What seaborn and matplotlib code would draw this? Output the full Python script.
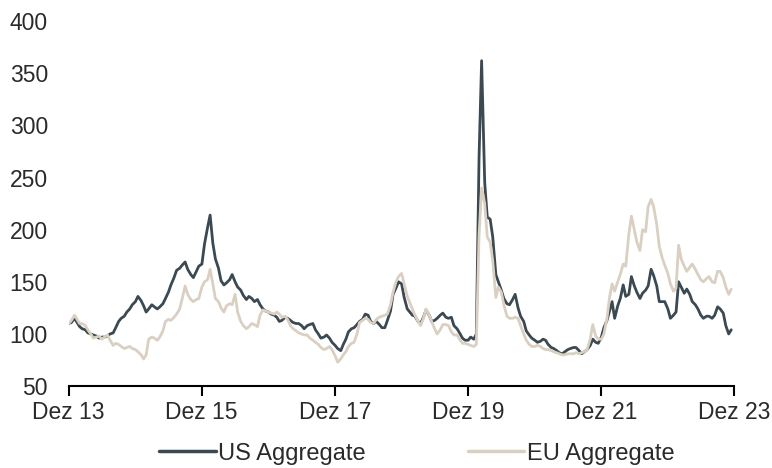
import pandas as pd
import matplotlib
matplotlib.use("Agg")
import matplotlib.pyplot as plt
from matplotlib.lines import Line2D
import seaborn as sns

# Serien (halbmonatlich, ab Jan 2014)
us_aggregate = [
    110, 111, 115, 111, 107, 105, 104, 101, 100, 99, 98, 96, 97, 97, 98, 100, 101, 106, 112, 115,
    117, 121, 124, 128, 131, 136, 132, 127, 121, 124, 128, 126, 124, 126, 129, 134, 140, 147, 154, 161,
    163, 166, 169, 162, 157, 154, 160, 165, 167, 186, 202, 214, 187, 172, 163, 151, 147, 149, 152, 157,
    150, 145, 142, 137, 133, 136, 134, 131, 133, 128, 124, 122, 121, 119, 118, 116, 112, 113, 116, 115,
    113, 111, 110, 110, 108, 105, 108, 109, 110, 104, 100, 96, 97, 99, 96, 92, 89, 86, 84, 90,
    95, 102, 105, 106, 109, 112, 114, 119, 118, 112, 110, 112, 109, 106, 106, 113, 122, 138, 144, 150,
    148, 135, 124, 121, 118, 117, 112, 110, 116, 123, 118, 112, 113, 115, 118, 120, 116, 115, 116, 108,
    105, 101, 96, 94, 94, 97, 95, 100, 270, 362, 245, 212, 210, 193, 157, 150, 142, 134, 129, 128,
    133, 138, 125, 117, 112, 103, 99, 96, 94, 92, 93, 95, 94, 90, 87, 86, 84, 82, 81, 83,
    85, 86, 87, 87, 84, 81, 83, 85, 89, 95, 92, 91, 97, 106, 113, 122, 131, 115, 127, 134,
    147, 136, 138, 155, 146, 140, 134, 139, 142, 146, 162, 156, 146, 131, 131, 131, 124, 115, 118, 121,
    150, 145, 139, 143, 138, 131, 128, 124, 118, 115, 117, 117, 115, 118, 126, 124, 120, 108, 100, 104,
]
eu_aggregate = [
    110, 113, 118, 114, 110, 110, 108, 104, 100, 96, 97, 98, 95, 97, 99, 94, 89, 91, 90, 88,
    86, 87, 88, 86, 85, 83, 80, 76, 80, 95, 97, 96, 94, 97, 103, 112, 114, 113, 116, 119,
    124, 134, 146, 138, 133, 131, 133, 134, 145, 150, 152, 162, 148, 134, 131, 125, 121, 127, 129, 128,
    138, 121, 112, 108, 105, 107, 110, 109, 107, 118, 123, 122, 121, 120, 119, 121, 119, 116, 117, 114,
    108, 105, 103, 101, 100, 99, 99, 96, 94, 92, 90, 87, 85, 86, 88, 85, 79, 73, 76, 80,
    83, 88, 91, 92, 100, 111, 113, 115, 114, 111, 110, 114, 116, 117, 118, 119, 128, 140, 150, 155,
    158, 148, 136, 130, 124, 118, 112, 108, 115, 124, 118, 112, 105, 100, 104, 109, 109, 108, 102, 99,
    99, 95, 91, 91, 90, 89, 88, 90, 195, 240, 225, 193, 188, 170, 135, 145, 140, 128, 117, 115,
    115, 116, 115, 108, 100, 94, 90, 88, 88, 89, 88, 86, 85, 85, 84, 83, 82, 81, 80, 80,
    81, 81, 81, 82, 81, 82, 83, 85, 95, 109, 98, 95, 95, 100, 115, 135, 148, 141, 150, 157,
    167, 165, 196, 213, 200, 188, 180, 200, 198, 222, 229, 222, 205, 184, 173, 166, 158, 148, 141, 144,
    185, 172, 165, 160, 164, 167, 162, 157, 152, 150, 153, 155, 150, 149, 160, 160, 154, 145, 138, 143,
]
series_names = ["US Aggregate", "EU Aggregate"]
tick_labels = ["Dez 13", "Dez 15", "Dez 17", "Dez 19", "Dez 21", "Dez 23"]

dates = pd.date_range("2014-01-01", periods=len(us_aggregate), freq="SMS")
df = pd.concat([
    pd.DataFrame({"Datum": dates, "Wert": us_aggregate, "Serie": series_names[0]}),
    pd.DataFrame({"Datum": dates, "Wert": eu_aggregate, "Serie": series_names[1]}),
])

sns.set_theme(style="white")
plt.rcParams["font.family"] = ["Liberation Sans", "DejaVu Sans"]

fig = plt.figure(figsize=(7.72, 4.68), dpi=100)
ax = fig.add_axes([0.089, 0.175, 0.862, 0.78])

farben = {"US Aggregate": "#3b4953", "EU Aggregate": "#d9d0c2"}
sns.lineplot(data=df, x="Datum", y="Wert", hue="Serie", hue_order=series_names,
             palette=farben, linewidth=2.0, ax=ax, legend=False)

ax.set_ylim(50, 400)
ax.set_yticks(range(50, 401, 50))
ax.set_xlim(pd.Timestamp("2013-12-31"), pd.Timestamp("2023-12-31"))
tick_pos = pd.to_datetime(["2013-12-31", "2015-12-31", "2017-12-31",
                           "2019-12-31", "2021-12-31", "2023-12-31"])
ax.set_xticks(tick_pos)
ax.set_xticklabels(tick_labels)
ax.set_xlabel("")
ax.set_ylabel("")

for s in ["top", "right", "left"]:
    ax.spines[s].set_visible(False)
ax.spines["bottom"].set_color("black")
ax.spines["bottom"].set_linewidth(1.5)
ax.tick_params(axis="x", bottom=True, length=7, width=1.5, color="black",
               labelsize=16.5, labelcolor="#2a2a2a", pad=4)
ax.tick_params(axis="y", left=False, length=0, labelsize=16.5, labelcolor="#2a2a2a", pad=15)

handles = [Line2D([], [], color=farben[n], linewidth=2.5) for n in series_names]
fig.legend(handles, series_names, loc="lower center", bbox_to_anchor=(0.54, -0.038),
           ncol=2, frameon=False, fontsize=17, handlelength=2.4,
           handletextpad=0.12, columnspacing=4.3, labelcolor="#2a2a2a")

fig.savefig("out.png", dpi=100)
